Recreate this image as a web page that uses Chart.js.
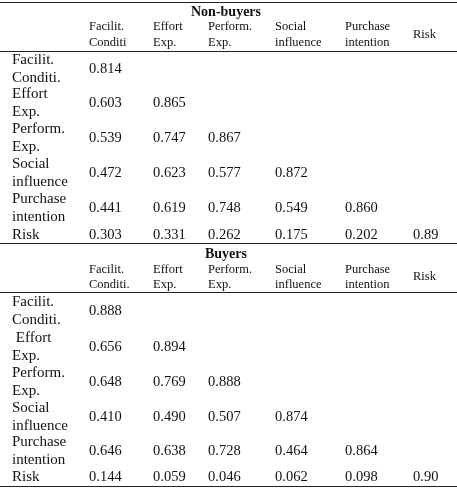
<!DOCTYPE html>
<html><head><meta charset="utf-8">
<script src="https://cdn.jsdelivr.net/npm/chart.js@4"></script>
<style>html,body{margin:0;padding:0;background:#fff}#c{display:block}</style>
</head><body>
<div style="width:457px;height:488px"><canvas id="c"></canvas></div>
<script>
const colsNon = ['Facilit.\nConditi', 'Effort\nExp.', 'Perform.\nExp.', 'Social\ninfluence', 'Purchase\nintention', 'Risk']
const colsBuy = ['Facilit.\nConditi.', 'Effort\nExp.', 'Perform.\nExp.', 'Social\ninfluence', 'Purchase\nintention', 'Risk']
const rowsNon = ['Facilit.\nConditi.', 'Effort\nExp.', 'Perform.\nExp.', 'Social\ninfluence', 'Purchase\nintention', 'Risk']
const rowsBuy = ['Facilit.\nConditi.', ' Effort\nExp.', 'Perform.\nExp.', 'Social\ninfluence', 'Purchase\nintention', 'Risk']
const nonBuyers = [
  ['0.814'],
  ['0.603', '0.865'],
  ['0.539', '0.747', '0.867'],
  ['0.472', '0.623', '0.577', '0.872'],
  ['0.441', '0.619', '0.748', '0.549', '0.860'],
  ['0.303', '0.331', '0.262', '0.175', '0.202', '0.89'],
]
const buyers = [
  ['0.888'],
  ['0.656', '0.894'],
  ['0.648', '0.769', '0.888'],
  ['0.410', '0.490', '0.507', '0.874'],
  ['0.646', '0.638', '0.728', '0.464', '0.864'],
  ['0.144', '0.059', '0.046', '0.062', '0.098', '0.90'],
]

// layout (pixel units of the scales)
const colX = [89, 153, 208, 275, 345, 413]
const labelX = 12
const blocks = [
  { title: 'Non-buyers', titleY: 12, headY: 35, headGap: 16, rowY: [69, 103, 138, 173, 208, 235], lines: [2, 51], cols: colsNon, rows: rowsNon, vals: nonBuyers },
  { title: 'Buyers', titleY: 254, headY: 277, headGap: 15, rowY: [311, 347, 382, 417, 451, 477], lines: [243, 292, 486], cols: colsBuy, rows: rowsBuy, vals: buyers },
]
const serif = '"Liberation Serif", "DejaVu Serif", serif'

const datasets = blocks.map((b) => {
  let pts = []
  b.vals.forEach((row, i) => row.forEach((v, j) => pts.push({ x: colX[j], y: b.rowY[i], t: v })))
  return { data: pts, pointRadius: 0, pointHoverRadius: 0, showLine: false }
})

const tablePlugin = {
  id: 'table',
  afterDatasetsDraw(chart) {
    const ctx = chart.ctx
    const xs = chart.scales.x, ys = chart.scales.y
    const multi = (txt, x, y, gap, align) => {
      const parts = txt.split('\n')
      ctx.textAlign = align
      parts.forEach((p, k) => ctx.fillText(p, x, y + (k - (parts.length - 1) / 2) * gap))
    }
    ctx.save()
    ctx.fillStyle = '#111'
    ctx.textBaseline = 'middle'
    blocks.forEach((b, bi) => {
      ctx.strokeStyle = '#222'
      ctx.lineWidth = 1
      b.lines.forEach((ly) => {
        const py = Math.round(ys.getPixelForValue(ly)) + 0.5
        ctx.beginPath(); ctx.moveTo(xs.getPixelForValue(0), py); ctx.lineTo(xs.getPixelForValue(457), py); ctx.stroke()
      })
      ctx.font = 'bold 14px ' + serif
      ctx.textAlign = 'center'
      ctx.fillText(b.title, xs.getPixelForValue(226), ys.getPixelForValue(b.titleY))
      ctx.font = '12.5px ' + serif
      b.cols.forEach((c, j) => multi(c, xs.getPixelForValue(colX[j]), ys.getPixelForValue(b.headY), b.headGap, 'left'))
      ctx.font = '15px ' + serif
      b.rows.forEach((r, i) => multi(r, xs.getPixelForValue(labelX), ys.getPixelForValue(b.rowY[i]), 18, 'left'))
      ctx.font = '14.5px ' + serif
      ctx.textAlign = 'left'
      chart.getDatasetMeta(bi).data.forEach((el, k) => {
        ctx.fillText(chart.data.datasets[bi].data[k].t, el.x, el.y)
      })
    })
    ctx.restore()
  },
}

new Chart(document.getElementById('c'), {
  type: 'scatter',
  data: { datasets: datasets },
  options: {
    responsive: true,
    maintainAspectRatio: false,
    animation: false,
    layout: { padding: 0 },
    plugins: { legend: { display: false }, tooltip: { enabled: false } },
    scales: {
      x: { type: 'linear', min: 0, max: 457, display: false },
      y: { type: 'linear', min: 0, max: 488, reverse: true, display: false },
    },
  },
  plugins: [tablePlugin],
})
</script>
</body></html>
